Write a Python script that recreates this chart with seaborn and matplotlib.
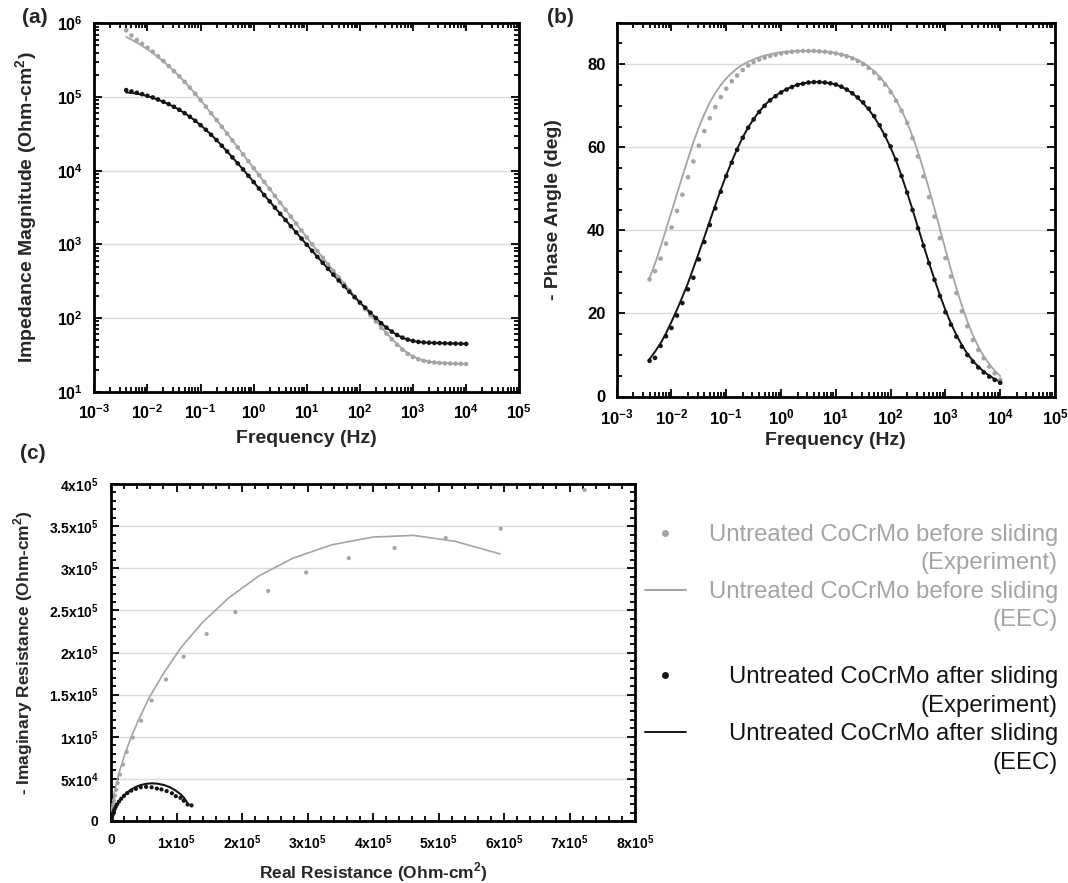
import numpy as np
import pandas as pd
import matplotlib
matplotlib.use("Agg")
import matplotlib.pyplot as plt
from matplotlib import ticker, font_manager
from matplotlib.lines import Line2D
import seaborn as sns

# ============================================
# 1. DATA
# ============================================
# measured frequencies (Hz), 10 points per decade
freq = [0.00398, 0.00501, 0.00631, 0.00794,
        0.0100, 0.0126, 0.0158, 0.0200, 0.0251, 0.0316, 0.0398, 0.0501, 0.0631, 0.0794,
        0.100, 0.126, 0.158, 0.200, 0.251, 0.316, 0.398, 0.501, 0.631, 0.794,
        1.00, 1.26, 1.58, 2.00, 2.51, 3.16, 3.98, 5.01, 6.31, 7.94,
        10.0, 12.6, 15.8, 20.0, 25.1, 31.6, 39.8, 50.1, 63.1, 79.4,
        100, 126, 158, 200, 251, 316, 398, 501, 631, 794,
        1000, 1259, 1585, 1995, 2512, 3162, 3981, 5012, 6310, 7943,
        10000]

# |Z| read in decades, log10(Ohm-cm2)
logz_before_exp = [5.905, 5.835, 5.775, 5.722,
                   5.668, 5.613, 5.553, 5.488, 5.420, 5.351, 5.280, 5.205, 5.126, 5.043,
                   4.957, 4.869, 4.779, 4.688, 4.596, 4.503, 4.410, 4.316, 4.222, 4.128,
                   4.034, 3.940, 3.846, 3.752, 3.658, 3.564, 3.470, 3.376, 3.282, 3.188,
                   3.094, 3.001, 2.909, 2.818, 2.728, 2.639, 2.551, 2.463, 2.376, 2.290,
                   2.205, 2.121, 2.038, 1.953, 1.868, 1.790, 1.711, 1.636, 1.570, 1.513,
                   1.470, 1.440, 1.419, 1.405, 1.396, 1.390, 1.386, 1.383, 1.381, 1.378,
                   1.376]
logz_before_eec = [5.815, 5.778, 5.738, 5.694,
                   5.648, 5.597, 5.542, 5.483, 5.420, 5.352, 5.281, 5.206, 5.127, 5.044,
                   4.957, 4.869, 4.779, 4.688, 4.596, 4.503, 4.410, 4.316, 4.222, 4.128,
                   4.034, 3.940, 3.846, 3.752, 3.658, 3.564, 3.470, 3.376, 3.282, 3.188,
                   3.094, 3.001, 2.910, 2.820, 2.731, 2.643, 2.556, 2.470, 2.384, 2.298,
                   2.213, 2.129, 2.045, 1.961, 1.877, 1.797, 1.718, 1.645, 1.580, 1.523,
                   1.479, 1.447, 1.424, 1.408, 1.398, 1.391, 1.387, 1.384, 1.381, 1.379,
                   1.377]
logz_after_exp = [5.093, 5.075, 5.057, 5.039,
                  5.016, 4.994, 4.966, 4.935, 4.903, 4.867, 4.826, 4.781, 4.731, 4.677,
                  4.618, 4.555, 4.487, 4.415, 4.338, 4.261, 4.180, 4.098, 4.017, 3.931,
                  3.845, 3.757, 3.669, 3.584, 3.499, 3.414, 3.330, 3.246, 3.162, 3.078,
                  2.995, 2.912, 2.830, 2.749, 2.668, 2.588, 2.510, 2.433, 2.357, 2.283,
                  2.210, 2.140, 2.072, 2.000, 1.930, 1.870, 1.816, 1.770, 1.734, 1.707,
                  1.689, 1.676, 1.669, 1.665, 1.662, 1.660, 1.657, 1.655, 1.653, 1.651,
                  1.649]
logz_after_eec = [5.062, 5.055, 5.045, 5.031,
                  5.012, 4.990, 4.964, 4.934, 4.902, 4.866, 4.826, 4.781, 4.731, 4.677,
                  4.618, 4.555, 4.487, 4.415, 4.338, 4.261, 4.180, 4.098, 4.017, 3.931,
                  3.845, 3.757, 3.669, 3.584, 3.499, 3.414, 3.330, 3.246, 3.162, 3.078,
                  2.995, 2.912, 2.830, 2.749, 2.668, 2.588, 2.510, 2.433, 2.357, 2.283,
                  2.210, 2.140, 2.072, 2.000, 1.930, 1.870, 1.816, 1.770, 1.734, 1.707,
                  1.689, 1.676, 1.669, 1.665, 1.662, 1.660, 1.657, 1.655, 1.653, 1.651,
                  1.649]

# - phase angle (deg)
phase_before_exp = [28.2, 30.2, 33.2, 36.8,
                    40.7, 44.7, 48.6, 52.8, 56.6, 60.4, 63.9, 67.0, 69.7, 72.1,
                    74.1, 75.9, 77.3, 78.6, 79.7, 80.5, 81.1, 81.6, 82.0, 82.3,
                    82.6, 82.8, 83.0, 83.1, 83.2, 83.2, 83.2, 83.1, 83.0, 82.8,
                    82.6, 82.3, 81.9, 81.4, 80.8, 80.0, 79.1, 78.0, 76.6, 75.1,
                    73.3, 71.2, 68.8, 65.9, 62.2, 57.8, 53.0, 48.0, 43.3, 38.1,
                    33.3, 28.9, 24.9, 20.5, 16.9, 13.6, 11.2, 9.2, 7.2, 5.6,
                    4.0]
phase_before_eec = [28.5, 32.0, 36.0, 40.2,
                    44.5, 48.8, 53.0, 57.2, 61.2, 64.8, 68.0, 70.8, 73.1, 75.0,
                    76.6, 77.9, 79.0, 79.9, 80.6, 81.2, 81.7, 82.1, 82.4, 82.7,
                    82.9, 83.0, 83.1, 83.2, 83.2, 83.2, 83.2, 83.1, 83.0, 82.9,
                    82.7, 82.4, 82.1, 81.6, 81.0, 80.3, 79.4, 78.3, 77.0, 75.4,
                    73.6, 71.4, 68.9, 66.0, 62.6, 58.8, 54.6, 50.0, 45.2, 40.3,
                    35.4, 30.6, 26.1, 21.9, 18.1, 14.8, 12.0, 9.7, 7.8, 6.2,
                    4.9]
phase_after_exp = [8.6, 9.3, 12.2, 14.5,
                   16.5, 19.5, 22.5, 25.8, 28.6, 33.0, 37.2, 41.3, 45.3, 49.3,
                   53.1, 56.3, 59.4, 62.3, 64.7, 66.7, 68.5, 70.0, 71.3, 72.3,
                   73.2, 73.9, 74.5, 75.0, 75.3, 75.6, 75.7, 75.7, 75.6, 75.4,
                   75.1, 74.6, 73.9, 73.0, 72.0, 70.8, 69.3, 67.5, 65.3, 62.9,
                   60.2, 57.0, 53.1, 49.1, 44.9, 40.5, 36.3, 32.1, 28.1, 24.2,
                   20.3, 17.3, 14.4, 12.0, 10.0, 8.4, 7.0, 5.8, 4.8, 4.0,
                   3.3]
phase_after_eec = [9.0, 10.8, 12.8, 15.2,
                   18.0, 20.9, 24.0, 27.3, 30.9, 34.6, 38.4, 42.3, 46.1, 49.8,
                   53.3, 56.6, 59.6, 62.4, 64.8, 66.8, 68.6, 70.1, 71.4, 72.4,
                   73.3, 74.0, 74.6, 75.1, 75.4, 75.6, 75.7, 75.7, 75.6, 75.4,
                   75.1, 74.6, 73.9, 73.0, 71.9, 70.6, 69.1, 67.3, 65.1, 62.7,
                   59.9, 56.8, 53.1, 49.1, 45.0, 40.7, 36.4, 32.2, 28.2, 24.4,
                   20.8, 17.6, 14.8, 12.4, 10.3, 8.6, 7.2, 6.0, 5.0, 4.2,
                   3.5]

# Nyquist (Ohm-cm2), from low to high frequency
zre_before_exp = [7.23e5, 5.95e5, 5.11e5, 4.33e5, 3.63e5, 2.98e5, 2.40e5, 1.90e5, 1.46e5, 1.11e5,
                  8.4e4, 6.2e4, 4.6e4, 3.3e4, 2.4e4, 1.85e4, 1.37e4, 1.03e4, 7.8e3, 6.0e3,
                  4.6e3, 3.6e3, 2.8e3, 2.2e3, 1.7e3, 1.3e3, 1.0e3, 800, 600, 500,
                  400, 300, 250, 200, 150, 100]
zim_before_exp = [3.93e5, 3.47e5, 3.36e5, 3.24e5, 3.12e5, 2.95e5, 2.73e5, 2.48e5, 2.22e5, 1.95e5,
                  1.68e5, 1.43e5, 1.19e5, 9.9e4, 8.2e4, 6.7e4, 5.5e4, 4.5e4, 3.7e4, 3.0e4,
                  2.45e4, 2.0e4, 1.63e4, 1.33e4, 1.08e4, 8.8e3, 7.1e3, 5.8e3, 4.7e3, 3.8e3,
                  3.1e3, 2.5e3, 2.0e3, 1.6e3, 1.3e3, 1.0e3]
zre_before_eec = [5.94e5, 5.25e5, 4.62e5, 4.00e5, 3.38e5, 2.78e5, 2.26e5, 1.80e5, 1.40e5, 1.07e5,
                  8.0e4, 5.8e4, 4.2e4, 3.0e4, 2.1e4, 1.5e4, 1.05e4, 7.5e3, 5.3e3, 3.8e3,
                  2.7e3, 1.9e3, 1.3e3, 900, 600, 400, 300, 200, 150, 100,
                  70, 50, 40, 30, 20]
zim_before_eec = [3.17e5, 3.32e5, 3.39e5, 3.37e5, 3.28e5, 3.12e5, 2.91e5, 2.65e5, 2.36e5, 2.06e5,
                  1.75e5, 1.46e5, 1.20e5, 9.8e4, 7.9e4, 6.4e4, 5.2e4, 4.2e4, 3.4e4, 2.75e4,
                  2.2e4, 1.8e4, 1.45e4, 1.17e4, 9.4e3, 7.5e3, 6.0e3, 4.8e3, 3.8e3, 3.0e3,
                  2.4e3, 1.9e3, 1.5e3, 1.2e3, 950]
zre_after_exp = [1.23e5, 1.17e5, 1.11e5, 1.06e5, 9.9e4, 9.3e4, 8.5e4, 7.7e4, 7.0e4, 6.2e4,
                 5.35e4, 4.55e4, 3.8e4, 3.1e4, 2.5e4, 2.0e4, 1.56e4, 1.21e4, 9.3e3, 7.2e3,
                 5.5e3, 4.3e3, 3.3e3, 2.6e3, 2.0e3, 1.6e3, 1.2e3, 950, 750, 600,
                 470, 370, 300]
zim_after_exp = [1.85e4, 1.95e4, 2.4e4, 2.75e4, 2.95e4, 3.3e4, 3.55e4, 3.75e4, 3.85e4, 4.0e4,
                 4.05e4, 4.0e4, 3.82e4, 3.6e4, 3.32e4, 3.0e4, 2.64e4, 2.3e4, 1.97e4, 1.67e4,
                 1.41e4, 1.18e4, 9.8e3, 8.1e3, 6.7e3, 5.5e3, 4.5e3, 3.7e3, 3.0e3, 2.45e3,
                 2.0e3, 1.63e3, 1.33e3]
zre_after_eec = [1.18e5, 1.15e5, 1.11e5, 1.05e5, 9.8e4, 9.0e4, 8.1e4, 7.2e4, 6.3e4, 5.4e4,
                 4.55e4, 3.75e4, 3.05e4, 2.45e4, 1.95e4, 1.52e4, 1.18e4, 9.1e3, 7.0e3, 5.4e3,
                 4.2e3, 3.2e3, 2.5e3, 1.9e3, 1.5e3, 1.1e3, 850, 650, 500, 400,
                 300, 200, 100]
zim_after_eec = [1.9e4, 2.35e4, 2.8e4, 3.25e4, 3.65e4, 4.0e4, 4.27e4, 4.42e4, 4.47e4, 4.42e4,
                 4.27e4, 4.03e4, 3.72e4, 3.37e4, 3.0e4, 2.63e4, 2.28e4, 1.95e4, 1.66e4, 1.4e4,
                 1.17e4, 9.7e3, 8.0e3, 6.6e3, 5.4e3, 4.4e3, 3.6e3, 2.9e3, 2.35e3, 1.9e3,
                 1.5e3, 1.0e3, 500]

labels = ["Untreated CoCrMo before sliding", "(Experiment)",
          "Untreated CoCrMo before sliding", "(EEC)", "",
          "Untreated CoCrMo after sliding", "(Experiment)",
          "Untreated CoCrMo after sliding", "(EEC)"]

bode = pd.DataFrame({
    "freq": freq,
    "z_before_exp": 10 ** np.array(logz_before_exp),
    "z_before_eec": 10 ** np.array(logz_before_eec),
    "z_after_exp": 10 ** np.array(logz_after_exp),
    "z_after_eec": 10 ** np.array(logz_after_eec),
    "ph_before_exp": phase_before_exp,
    "ph_before_eec": phase_before_eec,
    "ph_after_exp": phase_after_exp,
    "ph_after_eec": phase_after_eec,
})
nyq_before_exp = pd.DataFrame({"re": zre_before_exp, "im": zim_before_exp})
nyq_before_eec = pd.DataFrame({"re": zre_before_eec, "im": zim_before_eec})
nyq_after_exp = pd.DataFrame({"re": zre_after_exp, "im": zim_after_exp})
nyq_after_eec = pd.DataFrame({"re": zre_after_eec, "im": zim_after_eec})

# ============================================
# 2. STYLE
# ============================================
GRAY = "#a4a4a4"
BLACK = "#141414"
W, H = 1068, 883

sns.set_style("ticks")
plt.rcParams["font.family"] = ["Liberation Sans", "DejaVu Sans"]
plt.rcParams["font.weight"] = "bold"
plt.rcParams["axes.labelweight"] = "bold"

installed = {f.name for f in font_manager.fontManager.ttflist}
if "Liberation Sans Narrow" in installed:
    NARROW, C_TICK, C_LABEL = "Liberation Sans Narrow", 11.5, 15
else:
    NARROW, C_TICK, C_LABEL = "Liberation Sans", 10, 12.5

fig = plt.figure(figsize=(W / 100, H / 100), dpi=100)


def px_axes(x0, y0, x1, y1):
    # axes box given in pixel coords of the original figure
    return fig.add_axes([x0 / W, 1 - y1 / H, (x1 - x0) / W, (y1 - y0) / H])


def style_axes(ax, size, family="Liberation Sans", pad=8):
    ax.tick_params(which="both", direction="in", top=True, right=True,
                   width=1.3, colors="black", labelsize=size, pad=pad,
                   labelfontfamily=family)
    ax.tick_params(which="major", length=6)
    ax.tick_params(which="minor", length=3.5)
    ax.yaxis.grid(True, which="major", color="#dadada", lw=1.0)
    ax.xaxis.grid(False)
    for sp in ax.spines.values():
        sp.set_visible(True)
        sp.set_linewidth(2.0)
        sp.set_color("black")
    ax.set_axisbelow(True)


def log_ticks(axis):
    axis.set_major_locator(ticker.LogLocator(base=10, numticks=20))
    axis.set_minor_locator(ticker.LogLocator(base=10, subs=np.arange(2, 10), numticks=20))
    axis.set_minor_formatter(ticker.NullFormatter())


def sci_label(v, pos):
    if abs(v) < 1e-9:
        return "0"
    if v < 0:
        return ""
    exp = int(np.floor(np.log10(v) + 1e-9))
    mant = f"{v / 10 ** exp:g}"
    return r"$\mathdefault{%sx10^{%d}}$" % (mant, exp)


# ============================================
# 3. (a) IMPEDANCE MAGNITUDE
# ============================================
ax_a = px_axes(94.3, 23.3, 519.3, 391.7)
sns.lineplot(data=bode, x="freq", y="z_before_eec", color=GRAY, lw=1.3, ax=ax_a)
sns.lineplot(data=bode, x="freq", y="z_after_eec", color=BLACK, lw=1.4, ax=ax_a)
sns.scatterplot(data=bode, x="freq", y="z_before_exp", color=GRAY, s=11, edgecolor="none", ax=ax_a, zorder=3)
sns.scatterplot(data=bode, x="freq", y="z_after_exp", color=BLACK, s=11, edgecolor="none", ax=ax_a, zorder=3)
ax_a.set_xscale("log")
ax_a.set_yscale("log")
ax_a.set_xlim(1e-3, 1e5)
ax_a.set_ylim(10, 1e6)
log_ticks(ax_a.xaxis)
log_ticks(ax_a.yaxis)
style_axes(ax_a, 11.5)
ax_a.set_xlabel("Frequency (Hz)", fontsize=14)
ax_a.set_ylabel(r"Impedance Magnitude (Ohm-cm$^\mathdefault{2}$)", fontsize=14)
ax_a.xaxis.set_label_coords(0.5, -0.105)
ax_a.yaxis.set_label_coords(-0.128, 0.5)

# ============================================
# 4. (b) PHASE ANGLE
# ============================================
ax_b = px_axes(616.7, 22.7, 1055, 396.5)
sns.lineplot(data=bode, x="freq", y="ph_before_eec", color=GRAY, lw=1.3, ax=ax_b)
sns.lineplot(data=bode, x="freq", y="ph_after_eec", color=BLACK, lw=1.4, ax=ax_b)
sns.scatterplot(data=bode, x="freq", y="ph_before_exp", color=GRAY, s=11, edgecolor="none", ax=ax_b, zorder=3)
sns.scatterplot(data=bode, x="freq", y="ph_after_exp", color=BLACK, s=11, edgecolor="none", ax=ax_b, zorder=3)
ax_b.set_xscale("log")
ax_b.set_xlim(1e-3, 1e5)
ax_b.set_ylim(0, 90)
log_ticks(ax_b.xaxis)
ax_b.yaxis.set_major_locator(ticker.MultipleLocator(20))
ax_b.yaxis.set_minor_locator(ticker.MultipleLocator(5))
style_axes(ax_b, 12)
ax_b.set_xlabel("Frequency (Hz)", fontsize=14)
ax_b.set_ylabel("- Phase Angle (deg)", fontsize=14)
ax_b.xaxis.set_label_coords(0.5, -0.095)
ax_b.yaxis.set_label_coords(-0.125, 0.5)

# ============================================
# 5. (c) NYQUIST
# ============================================
ax_c = px_axes(111, 484, 635, 821)
sns.lineplot(data=nyq_before_eec, x="re", y="im", sort=False, estimator=None, color=GRAY, lw=1.2, ax=ax_c)
sns.lineplot(data=nyq_after_eec, x="re", y="im", sort=False, estimator=None, color=BLACK, lw=1.5, ax=ax_c)
sns.scatterplot(data=nyq_before_exp, x="re", y="im", color=GRAY, s=9, edgecolor="none", ax=ax_c, zorder=3)
sns.scatterplot(data=nyq_after_exp, x="re", y="im", color=BLACK, s=9, edgecolor="none", ax=ax_c, zorder=3)
ax_c.set_xlim(0, 8e5)
ax_c.set_ylim(0, 4e5)
ax_c.xaxis.set_major_locator(ticker.MultipleLocator(1e5))
ax_c.xaxis.set_minor_locator(ticker.MultipleLocator(2e4))
ax_c.yaxis.set_major_locator(ticker.MultipleLocator(5e4))
ax_c.yaxis.set_minor_locator(ticker.MultipleLocator(1e4))
ax_c.xaxis.set_major_formatter(ticker.FuncFormatter(sci_label))
ax_c.yaxis.set_major_formatter(ticker.FuncFormatter(sci_label))
style_axes(ax_c, C_TICK, NARROW, pad=9)
ax_c.set_xlabel(r"Real Resistance (Ohm-cm$^\mathdefault{2}$)", fontsize=C_LABEL, family=NARROW)
ax_c.set_ylabel(r"- Imaginary Resistance (Ohm-cm$^\mathdefault{2}$)", fontsize=C_LABEL, family=NARROW)
ax_c.xaxis.set_label_coords(0.5, -0.116)
ax_c.yaxis.set_label_coords(-0.145, 0.5)

# ============================================
# 6. LEGEND (keys on the left, text right-aligned)
# ============================================
blank = Line2D([], [], ls="none")
keys = [Line2D([], [], ls="none", marker="o", ms=5, color=GRAY, mec="none"), blank,
        Line2D([], [], color=GRAY, lw=1.4), blank, blank,
        Line2D([], [], ls="none", marker="o", ms=5, color=BLACK, mec="none"), blank,
        Line2D([], [], color=BLACK, lw=1.4), blank]
leg_font = dict(family="Liberation Sans", weight="normal", size=17.2)
common = dict(frameon=False, prop=leg_font, labelspacing=0.27, borderpad=0, borderaxespad=0)
top = 1 - 524 / H
leg_keys = fig.legend(keys, [""] * len(keys), loc="upper left", bbox_to_anchor=(645 / W, top),
                      handlelength=1.7, handletextpad=0, **common)
leg_text = fig.legend([Line2D([], [], ls="none") for _ in labels], labels, loc="upper right",
                      bbox_to_anchor=(1058 / W, top), markerfirst=False, handlelength=0,
                      handletextpad=0, labelcolor=[GRAY] * 4 + [BLACK] * 5, **common)

# panel letters
fig.text(22 / W, 1 - 8 / H, "(a)", fontsize=15, fontweight="bold", va="top")
fig.text(547 / W, 1 - 8 / H, "(b)", fontsize=15, fontweight="bold", va="top")
fig.text(20 / W, 1 - 444 / H, "(c)", fontsize=15, fontweight="bold", va="top")

plt.savefig("out.png", dpi=100)
print("saved out.png")
